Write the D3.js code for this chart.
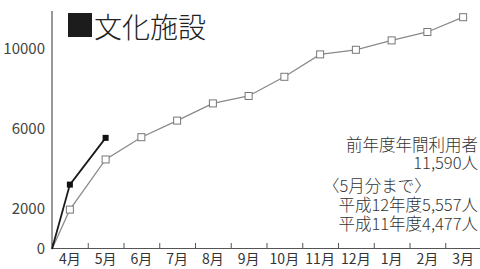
<!DOCTYPE html>
<html>
<head>
<meta charset="utf-8">
<script src="https://cdn.jsdelivr.net/npm/d3@7"></script>
<style>
  body { margin: 0; background: #fff; }
  svg { display: block; }
</style>
</head>
<body>
<div id="chart"></div>
<script>
// 文化施設 利用者数（累計）

var months = ["4月", "5月", "6月", "7月", "8月", "9月", "10月", "11月", "12月", "1月", "2月", "3月"];
var yTicks = [0, 2000, 6000, 10000];
// 平成11年度 (前年度)
var prevYear = [1970, 4477, 5590, 6420, 7280, 7650, 8610, 9730, 9960, 10430, 10850, 11590];
// 平成12年度 (5月分まで)
var thisYear = [3220, 5557];
var notes = ["前年度年間利用者", "11,590人", "〈5月分まで〉", "平成12年度5,557人", "平成11年度4,477人"];

var width = 480, height = 269;

var svg = d3.select("#chart").append("svg")
    .attr("width", width)
    .attr("height", height)
    .style("font-family", "'Noto Sans CJK JP', 'Noto Sans', sans-serif");

var x = d3.scaleLinear().domain([0, 12]).range([52, 481]);
var y = d3.scaleLinear().domain([0, 10000]).range([249, 49]);

// axes
svg.append("line")
    .attr("x1", x(0)).attr("x2", x(0))
    .attr("y1", 11).attr("y2", 248.5)
    .attr("stroke", "#555").attr("stroke-width", 1.2);

var xAxis = d3.axisBottom(x)
    .tickValues(d3.range(1, 12))
    .tickSize(-5)
    .tickFormat("");

svg.append("g")
    .attr("transform", "translate(0,248)")
    .call(xAxis)
    .call(function(g) {
        g.select(".domain").attr("stroke", "#555").attr("stroke-width", 1.2);
        g.selectAll(".tick line").attr("stroke", "#555");
    });

svg.append("g").selectAll("text")
    .data(months)
    .enter().append("text")
    .attr("x", function(d, i) { return x(i + 0.5); })
    .attr("y", 264)
    .attr("text-anchor", "middle")
    .attr("font-size", 14)
    .attr("fill", "#333")
    .text(function(d) { return d; });

svg.append("g").selectAll("text")
    .data(yTicks)
    .enter().append("text")
    .attr("x", 45)
    .attr("y", function(d) { return y(d); })
    .attr("dy", "0.35em")
    .attr("text-anchor", "end")
    .attr("font-size", 15)
    .attr("fill", "#444")
    .text(function(d) { return d; });

// lines
var line = d3.line()
    .x(function(d) { return x(d.i); })
    .y(function(d) { return y(d.v); });

function pts(arr) {
    var p = [{i: 0, v: 0}];
    arr.forEach(function(v, k) { p.push({i: k + 0.5, v: v}); });
    return p;
}

svg.append("path")
    .datum(pts(prevYear))
    .attr("d", line)
    .attr("fill", "none")
    .attr("stroke", "#8a8a8a")
    .attr("stroke-width", 1.3);

svg.append("g").selectAll("rect")
    .data(prevYear)
    .enter().append("rect")
    .attr("x", function(d, i) { return x(i + 0.5) - 3.5; })
    .attr("y", function(d) { return y(d) - 3.5; })
    .attr("width", 7).attr("height", 7)
    .attr("fill", "#fff")
    .attr("stroke", "#777")
    .attr("stroke-width", 1);

svg.append("path")
    .datum(pts(thisYear))
    .attr("d", line)
    .attr("fill", "none")
    .attr("stroke", "#1a1a1a")
    .attr("stroke-width", 1.8);

svg.append("g").selectAll("rect")
    .data(thisYear)
    .enter().append("rect")
    .attr("x", function(d, i) { return x(i + 0.5) - 3; })
    .attr("y", function(d) { return y(d) - 3; })
    .attr("width", 6).attr("height", 6)
    .attr("fill", "#111");

// title
svg.append("rect")
    .attr("x", 68).attr("y", 13)
    .attr("width", 24).attr("height", 24)
    .attr("fill", "#1c1c1c");

svg.append("text")
    .attr("x", 94).attr("y", 38)
    .attr("font-size", 28)
    .attr("font-weight", 300)
    .attr("fill", "#222")
    .text("文化施設");

// notes
var noteY = [145, 163, 186, 205, 224];
svg.append("g").selectAll("text")
    .data(notes)
    .enter().append("text")
    .attr("x", function(d, i) { return i === 2 ? 323 : 478; })
    .attr("y", function(d, i) { return noteY[i]; })
    .attr("dy", "0.35em")
    .attr("text-anchor", function(d, i) { return i === 2 ? "start" : "end"; })
    .attr("font-size", 16.5)
    .attr("font-weight", 300)
    .attr("fill", "#333")
    .text(function(d) { return d; });
</script>
</body>
</html>
